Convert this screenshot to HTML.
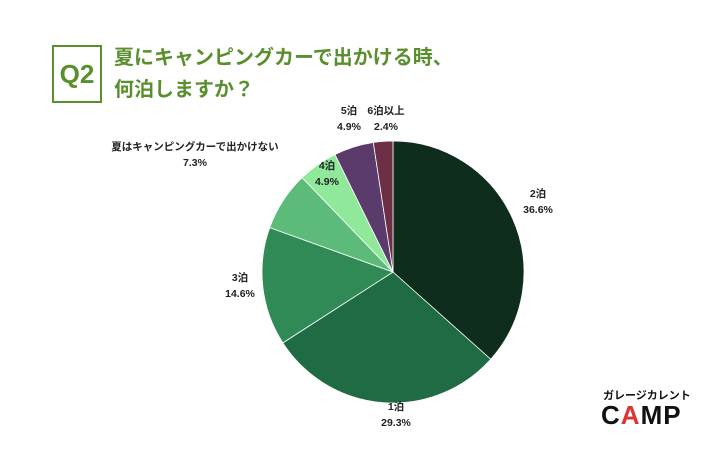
<!DOCTYPE html>
<html><head><meta charset="utf-8"><style>
body{margin:0;width:710px;height:474px;background:#fff;overflow:hidden;font-family:"Liberation Sans","Noto Sans CJK JP",sans-serif;position:relative}
.q{position:absolute;left:52px;top:45px;width:50px;height:58px;border:2px solid #5a8f2e;color:#5a8f2e;font-size:26px;font-weight:bold;text-align:center;line-height:54px;box-sizing:border-box}
.t{position:absolute;left:114px;top:42px;color:#5a8f2e;font-size:20px;font-weight:bold;line-height:32px;letter-spacing:0px}
.lbl{font-size:10.5px;font-weight:bold;fill:#222}
</style></head><body>
<div class="q">Q2</div>
<div class="t">夏にキャンピングカーで出かける時、<br>何泊しますか？</div>
<svg id="c" width="710" height="474" style="position:absolute;left:0;top:0"></svg>
<div style="position:absolute;left:603px;top:387px;font-size:11px;font-weight:bold;color:#111">ガレージカレント</div>
<div style="position:absolute;left:601px;top:400px;font-size:26px;font-weight:900;color:#111;letter-spacing:1px;font-family:'Liberation Sans',sans-serif">C<span style="color:#d33">A</span>MP</div>
<script>
const categories=["2泊","1泊","3泊","夏はキャンピングカーで出かけない","4泊","5泊","6泊以上"];
const values=[36.6,29.3,14.6,7.3,4.9,4.9,2.4];
const colors=["#0e2d1c","#1f6b44","#2f8a56","#5dbb79","#90e89b","#5b3a6c","#6c2f46"];
const labelPos=[[538,197],[396,410],[240,281],[195,150],[327,169],[349,114],[386,114]];
const svg=document.getElementById('c');const NS="http://www.w3.org/2000/svg";
const cx=393,cy=272,r=131;const total=values.reduce((a,b)=>a+b,0);
let a0=-Math.PI/2;
values.forEach((v,i)=>{
 const a1=a0+v/total*2*Math.PI;
 const p=document.createElementNS(NS,'path');
 const x0=cx+r*Math.cos(a0),y0=cy+r*Math.sin(a0),x1=cx+r*Math.cos(a1),y1=cy+r*Math.sin(a1);
 p.setAttribute('d',`M${cx},${cy}L${x0},${y0}A${r},${r} 0 ${a1-a0>Math.PI?1:0} 1 ${x1},${y1}Z`);
 p.setAttribute('fill',colors[i]);p.setAttribute('stroke','#fff');p.setAttribute('stroke-width','0.8');
 
 
 svg.appendChild(p);
 const [lx,ly]=labelPos[i];
 const t=document.createElementNS(NS,'text');t.setAttribute('class','lbl');t.setAttribute('text-anchor','middle');
 t.setAttribute('x',lx);t.setAttribute('y',ly);
 const s1=document.createElementNS(NS,'tspan');s1.textContent=categories[i];t.appendChild(s1);
 const s2=document.createElementNS(NS,'tspan');s2.setAttribute('x',lx);s2.setAttribute('dy','16');s2.textContent=v.toFixed(1)+'%';t.appendChild(s2);
 
 
 svg.appendChild(t);
 a0=a1;
});
</script>
</body></html>
